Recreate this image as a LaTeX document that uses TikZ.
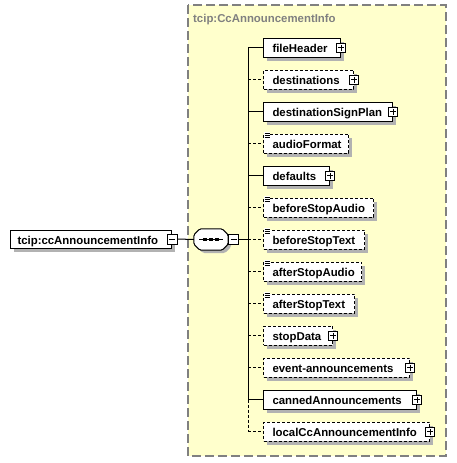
\documentclass[tikz,border=0pt]{standalone}
\usepackage{fontspec}
\setmainfont{Liberation Sans}
\definecolor{bgyellow}{RGB}{255,255,204}
\definecolor{bordergray}{RGB}{128,128,128}
\newcommand\xlbl[2]{\makebox[#1][l]{#2}}
% style, name, x, y(center), box width, text width, text
\newcommand\xelem[7]{%
  \fill[shadowfill] ([shift={(4pt,-4pt)}]#3,{#4-9.5}) rectangle ++(#5,19);
  \node[#1] (#2) at (#3,#4) {\xlbl{#6}{#7}};}
\begin{document}
\begin{tikzpicture}[x=1pt,y=-1pt,
  elem/.style={draw, line width=1pt, fill=white, minimum height=19pt,
    inner xsep=9pt, inner ysep=0pt, anchor=west, text height=10pt, text depth=0pt,
    font=\bfseries\fontsize{11.4}{12}\selectfont},
  opt/.style={elem, dash pattern=on 3pt off 2pt},
  conn/.style={line width=1pt},
  optconn/.style={line width=1pt, dash pattern=on 3pt off 2pt},
  plusbox/.style={draw, solid, fill=white, line width=0.8pt, minimum size=9pt, inner sep=0pt,
    path picture={\draw[line width=0.8pt] ([xshift=-3pt]path picture bounding box.center) -- ([xshift=3pt]path picture bounding box.center)
      ([yshift=-3pt]path picture bounding box.center) -- ([yshift=3pt]path picture bounding box.center);}},
  minusbox/.style={draw, solid, fill=white, line width=0.8pt, minimum size=10pt, inner sep=0pt,
    path picture={\draw[line width=0.8pt] ([xshift=-3pt]path picture bounding box.center) -- ([xshift=3pt]path picture bounding box.center);}},
  docicon/.style={line width=0.7pt},
  shadowfill/.style={fill=black!30}
]
\useasboundingbox (0,0) rectangle (457,463);
% complex type area
\fill[bgyellow] (188,5) rectangle (446,456);
\draw[bordergray, line width=1.3pt, dash pattern=on 9pt off 4pt] (188,5) rectangle (446,456);
\node[anchor=base west, text=bordergray, font=\bfseries\fontsize{11.4}{12}\selectfont, inner sep=0pt] (title) at (193,23) {tcip:CcAnnouncementInfo};

% root element
\fill[shadowfill] ([shift={(4pt,-4pt)}]10,230) rectangle ++(161,18);
\node[elem, minimum height=18pt, inner xsep=7pt] (root) at (10,239) {\xlbl{147pt}{tcip:ccAnnouncementInfo}};
\node[minusbox] (rootm) at (root.east) {};

% sequence compositor
\fill[shadowfill, rounded corners=1.5pt]
  (203,232) -- (225,232) -- (231,238) -- (231,247) -- (225,253) -- (203,253) -- (197,247) -- (197,238) -- cycle;
\node[draw=none, minimum width=34pt, minimum height=21pt, inner sep=0pt] (seq) at (211,239.5) {};
\draw[line width=1pt, fill=white, rounded corners=1.5pt]
  ([xshift=6pt]seq.north west) -- ([xshift=-6pt]seq.north east) -- ([yshift=-6pt]seq.north east)
  -- ([yshift=6pt]seq.south east) -- ([xshift=-6pt]seq.south east) -- ([xshift=6pt]seq.south west)
  -- ([yshift=6pt]seq.south west) -- ([yshift=-6pt]seq.north west) -- cycle;
\draw[line width=1pt] ([xshift=-12pt]seq.center) -- ([xshift=12pt]seq.center);
\foreach \dx in {-6,0,6} \fill ([xshift=\dx pt-1.6pt, yshift=-1.6pt]seq.center) rectangle ++(3.2,-3.2);
\node[minusbox, anchor=west] (seqm) at (seq.east) {};
\coordinate (sp) at (248,239.5);

\draw[conn] (rootm.east) -- (seq.west);
\draw[conn] (seqm.east) -- (sp);

% children
\xelem{elem}{fh}{263}{47.5}{77}{59pt}{fileHeader}
\xelem{opt}{dst}{263}{79.5}{90}{72pt}{destinations}
\xelem{elem}{dsp}{263}{111.5}{129}{111pt}{destinationSignPlan}
\xelem{opt}{af}{263}{143.5}{85}{67pt}{audioFormat}
\xelem{elem}{dfl}{263}{175.5}{66}{48pt}{defaults}
\xelem{opt}{bsa}{263}{207.5}{110}{92pt}{beforeStopAudio}
\xelem{opt}{bst}{263}{239.5}{101}{83pt}{beforeStopText}
\xelem{opt}{asa}{263}{271.5}{98}{80pt}{afterStopAudio}
\xelem{opt}{ast}{263}{303.5}{91}{73pt}{afterStopText}
\xelem{opt}{sd}{263}{335.5}{69}{51pt}{stopData}
\xelem{opt}{ea}{263}{367.5}{146}{128pt}{event-announcements}
\xelem{elem}{ca}{263}{399.5}{153}{135pt}{cannedAnnouncements}
\xelem{opt}{lc}{263}{431.5}{166}{148pt}{localCcAnnouncementInfo}

% expand markers
\foreach \n in {fh,dst,dsp,dfl,sd,ea,ca,lc} \node[plusbox] (\n p) at (\n.east) {};

% documentation icons
\foreach \n in {af,bsa,bst,asa,ast} {
  \fill[white] ([xshift=1pt,yshift=1.2pt]\n.north west) rectangle ([xshift=7pt,yshift=-4.2pt]\n.north west);
  \foreach \dy in {0.5,-1.5,-3.5}
    \draw[docicon] ([xshift=1.5pt,yshift=\dy pt]\n.north west) -- ([xshift=6.5pt,yshift=\dy pt]\n.north west);
}

% spine
\draw[conn] (fh.west -| sp) -- (ca.west -| sp);
\draw[optconn] (ca.west -| sp) -- (lc.west -| sp);
\foreach \n in {fh,dsp,dfl,ca} \draw[conn] (\n.west -| sp) -- (\n.west);
\foreach \n in {dst,af,bsa,bst,asa,ast,sd,ea,lc} \draw[optconn] (\n.west -| sp) -- (\n.west);
\end{tikzpicture}
\end{document}
